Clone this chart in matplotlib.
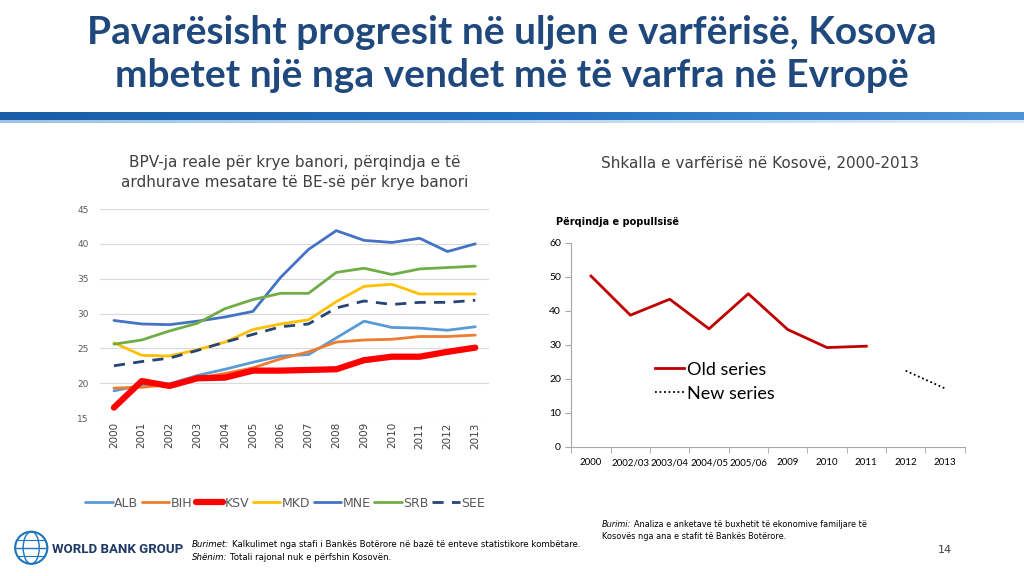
import matplotlib
matplotlib.use('Agg')
from matplotlib import pyplot as plt
from matplotlib.patches import Circle, Ellipse
import numpy as np

# left chart: real GDP per capita, % of EU average
years = ['2000', '2001', '2002', '2003', '2004', '2005', '2006',
         '2007', '2008', '2009', '2010', '2011', '2012', '2013']
alb = [18.9, 19.7, 19.9, 21.1, 22.0, 23.0, 23.9, 24.1, 26.5, 28.9, 28.0, 27.9, 27.6, 28.1]
bih = [19.3, 19.4, 19.8, 20.7, 21.4, 22.2, 23.5, 24.5, 25.9, 26.2, 26.3, 26.7, 26.7, 26.9]
ksv = [16.5, 20.3, 19.6, 20.7, 20.8, 21.8, 21.8, 21.9, 22.0, 23.3, 23.8, 23.8, 24.5, 25.1]
mkd = [25.8, 24.0, 23.9, 24.8, 25.9, 27.7, 28.5, 29.1, 31.7, 33.9, 34.2, 32.8, 32.8, 32.8]
mne = [29.0, 28.5, 28.4, 28.9, 29.5, 30.3, 35.2, 39.2, 41.9, 40.5, 40.2, 40.8, 38.9, 40.0]
srb = [25.6, 26.2, 27.5, 28.6, 30.7, 32.0, 32.9, 32.9, 35.9, 36.5, 35.6, 36.4, 36.6, 36.8]
see = [22.5, 23.1, 23.6, 24.7, 25.9, 27.0, 28.1, 28.5, 30.8, 31.8, 31.3, 31.6, 31.6, 31.9]

# right chart: poverty rate in Kosovo
periods = ['2000', '2002/03', '2003/04', '2004/05', '2005/06', '2009', '2010', '2011', '2012', '2013']
old_series = [50.2, 38.7, 43.4, 34.7, 45.0, 34.5, 29.2, 29.6, None, None]
new_series = [None, None, None, None, None, None, None, None, 22.4, 17.2]

fig = plt.figure(figsize=(10.24, 5.76), dpi=100)
fig.patch.set_facecolor('white')

# header
title_color = '#1F497D'
fig.text(0.5, 0.944, 'Pavarësisht progresit në uljen e varfërisë, Kosova',
         ha='center', va='center', fontsize=28, fontweight='bold', family='Lato', color=title_color)
fig.text(0.5, 0.869, 'mbetet një nga vendet më të varfra në Evropë',
         ha='center', va='center', fontsize=28, fontweight='bold', family='Lato', color=title_color)

bar_ax = fig.add_axes([0.0, 0.792, 1.0, 0.013])
grad = np.linspace(0, 1, 256).reshape(1, -1)
cmap = matplotlib.colors.LinearSegmentedColormap.from_list('hdr', ['#1A5DA6', '#1F6FC0', '#4C93D6'])
bar_ax.imshow(grad, aspect='auto', cmap=cmap)
bar_ax.axis('off')
line_ax = fig.add_axes([0.0, 0.787, 1.0, 0.004])
line_ax.imshow(grad, aspect='auto',
               cmap=matplotlib.colors.LinearSegmentedColormap.from_list('hdr2', ['#9DC3E6', '#DDEBF7']))
line_ax.axis('off')

# left chart
ax = fig.add_axes([0.0977, 0.2743, 0.380, 0.3628])
x = np.arange(len(years))
series = [('ALB', alb, '#5B9BD5', 2.0, '-'),
          ('BIH', bih, '#ED7D31', 2.0, '-'),
          ('KSV', ksv, '#FF0000', 4.5, '-'),
          ('MKD', mkd, '#FFC000', 2.0, '-'),
          ('MNE', mne, '#4472C4', 2.0, '-'),
          ('SRB', srb, '#70AD47', 2.0, '-'),
          ('SEE', see, '#264478', 2.0, (0, (4, 3)))]
for name, vals, col, lw, ls in series:
    ax.plot(x, vals, color=col, lw=lw, ls=ls, label=name, solid_capstyle='round')
ax.set_xlim(-0.5, len(years) - 0.5)
ax.set_ylim(15, 45)
ax.set_yticks(np.arange(15, 46, 5))
ax.set_xticks(x)
ax.set_xticklabels(years, rotation=90, fontsize=7.5, color='#404040')
ax.tick_params(axis='y', labelsize=6.5, colors='#595959', length=0, pad=8)
ax.tick_params(axis='x', length=0, pad=3)
ax.grid(axis='y', color='#D9D9D9', lw=0.8)
ax.set_axisbelow(True)
for s in ax.spines.values():
    s.set_visible(False)
ax.legend(loc='center', bbox_to_anchor=(0.475, -0.407), ncol=7, frameon=False, fontsize=9,
          handlelength=2.2, handletextpad=0.1, columnspacing=0.3, labelcolor='#595959')
fig.text(0.288, 0.700, 'BPV-ja reale për krye banori, përqindja e të\nardhurave mesatare të BE-së për krye banori',
         ha='center', va='center', fontsize=11, color='#404040', linespacing=1.4)

# right chart
ax2 = fig.add_axes([0.558, 0.224, 0.384, 0.3547])
xp = np.arange(len(periods))
old_y = np.array([np.nan if v is None else v for v in old_series])
new_y = np.array([np.nan if v is None else v for v in new_series])
ax2.plot(xp, old_y, color='#C00000', lw=2.0, label='Old series')
ax2.plot(xp, new_y, color='black', lw=1.3, ls=(0, (1, 1.5)), label='New series')
ax2.set_xlim(-0.5, len(periods) - 0.5)
ax2.set_ylim(0, 60)
ax2.set_yticks(np.arange(0, 61, 10))
ax2.set_xticks(xp)
ax2.set_xticklabels(periods, fontsize=7, color='black', family='Lato')
ax2.set_xticks(np.arange(-0.5, len(periods), 1), minor=True)
ax2.tick_params(axis='x', which='major', length=0, pad=8)
ax2.tick_params(axis='x', which='minor', length=4, color='#A6A6A6')
ax2.tick_params(axis='y', labelsize=7.5, length=4, color='#A6A6A6')
for lbl in ax2.get_yticklabels():
    lbl.set_family('Lato')
for side in ('top', 'right'):
    ax2.spines[side].set_visible(False)
for side in ('left', 'bottom'):
    ax2.spines[side].set_color('#A6A6A6')
ax2.legend(loc='center left', bbox_to_anchor=(0.194, 0.32), frameon=False,
           prop={'family': 'Lato', 'size': 13},
           handlelength=1.6, handletextpad=0.2, labelspacing=0.45, borderaxespad=0)
fig.text(0.543, 0.615, 'Përqindja e popullsisë', fontsize=7, fontweight='bold', va='center')
fig.text(0.742, 0.717, 'Shkalla e varfërisë në Kosovë, 2000-2013',
         ha='center', va='center', fontsize=11, color='#404040')

# footer
logo_ax = fig.add_axes([0.013, 0.018, 0.035, 0.062])
logo_ax.set_xlim(-1, 1)
logo_ax.set_ylim(-1, 1)
logo_ax.set_aspect('equal')
logo_ax.axis('off')
logo_ax.add_patch(Circle((0, 0), 0.9, fill=False, ec='#1B75BC', lw=1.5))
logo_ax.add_patch(Ellipse((0, 0), 0.9, 1.8, fill=False, ec='#1B75BC', lw=1.0))
logo_ax.plot([-0.9, 0.9], [0, 0], color='#1B75BC', lw=1.0)
logo_ax.plot([-0.75, 0.75], [0.45, 0.45], color='#1B75BC', lw=0.8)
logo_ax.plot([-0.75, 0.75], [-0.45, -0.45], color='#1B75BC', lw=0.8)
fig.text(0.051, 0.046, 'WORLD BANK GROUP', fontsize=9.5, fontweight='bold', color='#1F3864',
         va='center', family='Roboto')


def note(xf, yf, head, body, size=6.2):
    t = fig.text(xf, yf, head, fontsize=size, va='center', style='italic')
    plt.annotate(body, xy=(1, 0.5), xycoords=t, xytext=(2, 0), textcoords='offset points',
                 fontsize=size, va='center', ha='left', annotation_clip=False)


note(0.1875, 0.055, 'Burimet:', 'Kalkulimet nga stafi i Bankës Botërore në bazë të enteve statistikore kombëtare.')
note(0.1875, 0.032, 'Shënim:', 'Totali rajonal nuk e përfshin Kosovën.')
note(0.588, 0.090, 'Burimi:', 'Analiza e anketave të buxhetit të ekonomive familjare të', size=5.9)
fig.text(0.588, 0.068, 'Kosovës nga ana e stafit të Bankës Botërore.', fontsize=5.9, va='center')
fig.text(0.916, 0.046, '14', fontsize=8, va='center', color='#404040')

fig.savefig('out.png', dpi=100)
